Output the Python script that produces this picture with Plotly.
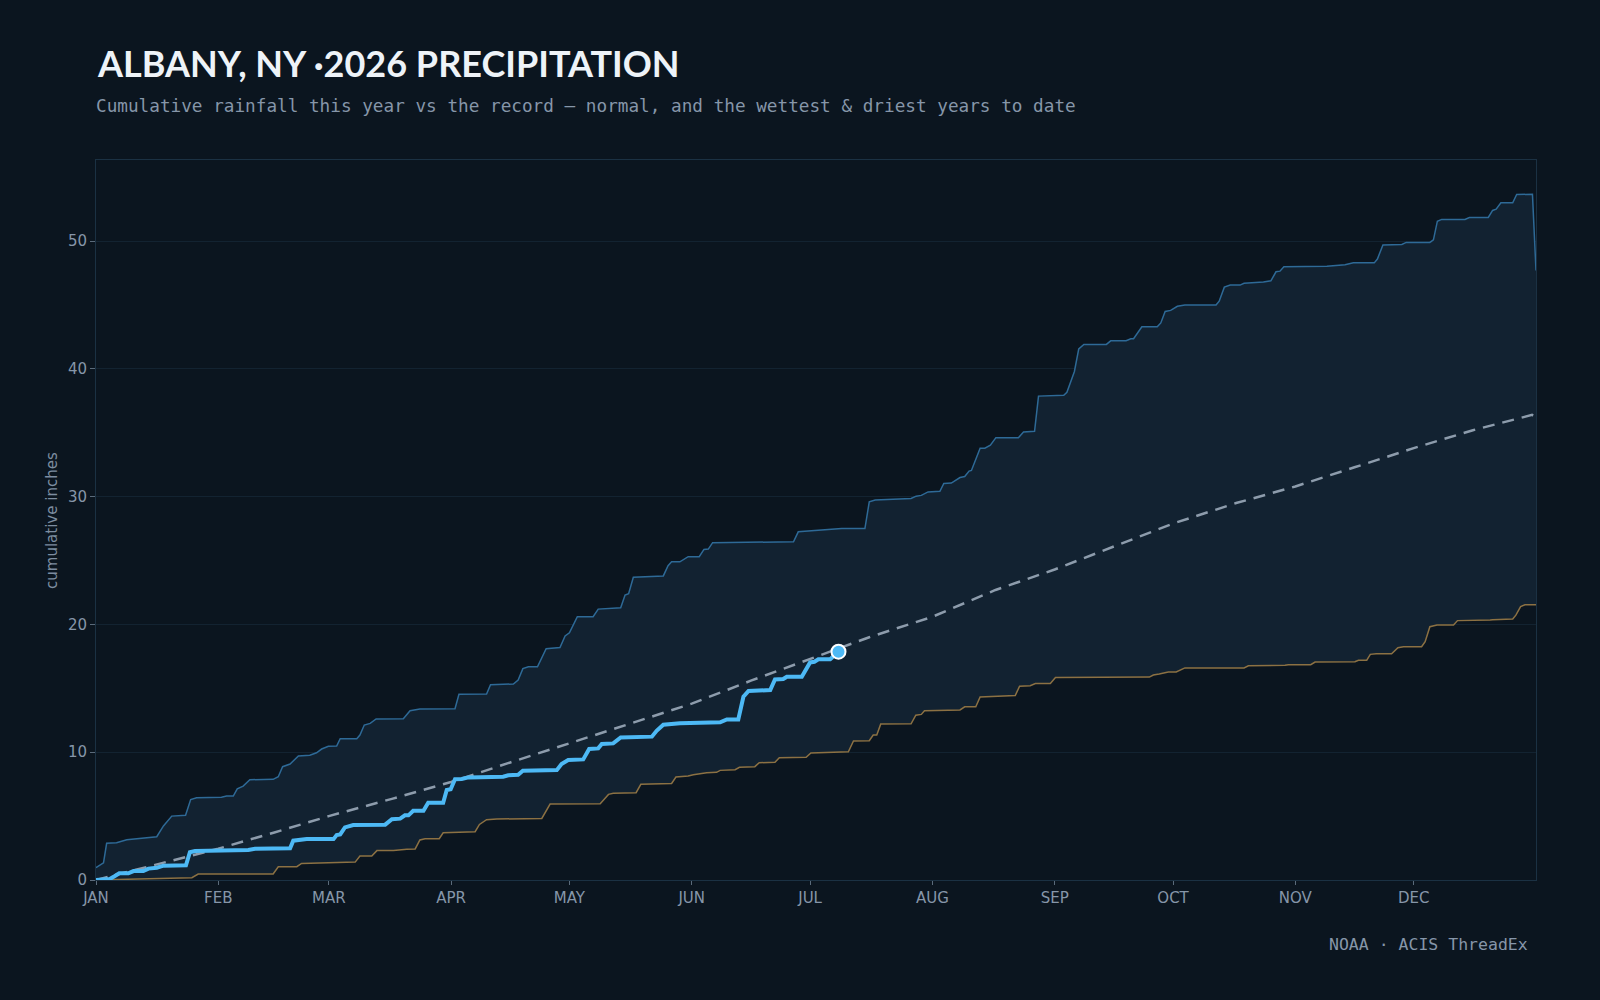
import plotly.graph_objects as go

# ---------------- data ----------------
month_days = [0, 31, 59, 90, 120, 151, 181, 212, 243, 273, 304, 334]
month_labels = ["JAN", "FEB", "MAR", "APR", "MAY", "JUN", "JUL", "AUG", "SEP", "OCT", "NOV", "DEC"]

wet_days = [0, 1.9, 2.7, 5.2, 7.8, 12, 15.4, 17.1, 19.2, 22.7, 24, 25.5, 31.8, 33.1, 34.8, 35.8, 37.3, 39,
            44.9, 46.2, 47.3, 49.2, 51.3, 54.2, 55.9, 57.2, 58.9, 61, 61.9, 66.1, 66.9, 68, 69.5, 71, 77.9,
            79.6, 82.1, 91, 92, 99, 100, 105.8, 107, 108.2, 109.6, 111.9, 114.1, 117.6, 118.9, 120, 122, 126,
            127.3, 133, 134.1, 135, 136.2, 143.8, 145, 145.9, 148, 150.1, 152.9, 154.1, 155.2, 156.3, 176.8,
            178, 181.8, 187.7, 189, 194.9, 196, 197.5, 206.6, 207.9, 209.2, 210.9, 213.9, 214.9, 216.8, 219,
            220.2, 221.3, 221.9, 224.1, 225.3, 226.7, 228.1, 233.8, 235.1, 237.9, 238.9, 245.3, 246.1, 248,
            249.1, 250.4, 256.1, 257.2, 261.1, 262.3, 263, 265.1, 269, 269.9, 271, 272.4, 274.1, 276, 283.9,
            284.7, 286, 287.5, 290, 291, 295.9, 297.8, 299.1, 300.1, 301.1, 312, 316.6, 318.7, 324, 324.8,
            326.2, 331, 332.1, 338.1, 339, 340, 341.1, 347, 348.1, 352.9, 354, 354.9, 356.1, 359.1, 360.1,
            364.1, 365]
wet_vals = [0.96, 1.35, 2.87, 2.92, 3.15, 3.26, 3.39, 4.23, 5.0, 5.06, 6.3, 6.44, 6.47, 6.57, 6.57, 7.14, 7.35,
            7.85, 7.88, 8.08, 8.87, 9.08, 9.70, 9.76, 9.96, 10.25, 10.46, 10.49, 11.06, 11.06, 11.35, 12.13,
            12.26, 12.6, 12.62, 13.25, 13.38, 13.4, 14.53, 14.55, 15.28, 15.34, 15.65, 16.54, 16.69, 16.69,
            18.1, 18.2, 19.1, 19.35, 20.6, 20.6, 21.2, 21.3, 22.3, 22.4, 23.7, 23.8, 24.6, 24.9, 24.9, 25.3,
            25.3, 25.87, 25.9, 26.4, 26.47, 27.25, 27.32, 27.43, 27.5, 27.5, 29.6, 29.74, 29.86, 30.04, 30.1,
            30.37, 30.42, 31.04, 31.07, 31.5, 31.58, 32.0, 32.05, 33.8, 33.8, 34.03, 34.62, 34.62, 35.06,
            35.12, 37.87, 37.93, 38.17, 39.8, 41.57, 41.92, 41.92, 42.2, 42.2, 42.36, 42.36, 43.3, 43.3, 43.6,
            44.5, 44.58, 44.9, 45.0, 45.0, 45.3, 46.4, 46.56, 46.56, 46.7, 46.8, 46.9, 47.6, 47.65, 48.0,
            48.04, 48.15, 48.3, 48.3, 48.6, 49.7, 49.74, 49.9, 49.9, 50.1, 51.56, 51.7, 51.7, 51.85, 51.85,
            52.4, 52.5, 53.0, 53.0, 53.65, 53.67, 47.7]

dry_days = [0, 9.5, 15.4, 24.3, 25.9, 44.9, 46.2, 50.9, 52.1, 63.5, 65.7, 66.9, 69.9, 71.2, 75.4, 78.8, 80.9,
            82.1, 83.4, 87, 88, 96.1, 97.2, 99, 101.6, 113, 115.1, 127.8, 129.9, 131.1, 136.9, 138.1, 145.9,
            147, 150.1, 151.4, 154.8, 157.3, 158.2, 162, 163.1, 167, 168.1, 172.1, 173.2, 180, 181.2, 190.7,
            192, 196, 197, 197.9, 198.9, 206.6, 207.8, 209.2, 210, 219, 220.2, 223, 224.1, 233, 234.1, 236.8,
            238.1, 241.9, 243.2, 267, 268, 269.5, 270.4, 271.8, 273.8, 276, 291, 292.1, 301.4, 302.2, 307.9,
            309, 319.1, 320, 322.1, 323, 324.5, 328.4, 330, 331.4, 336, 336.9, 338.1, 339.9, 344.1, 345.1,
            353.4, 354, 359.1, 359.9, 361.1, 362.2, 365]
dry_vals = [0, 0.05, 0.13, 0.18, 0.47, 0.47, 1.04, 1.04, 1.3, 1.35, 1.4, 1.88, 1.88, 2.3, 2.3, 2.4, 2.43, 3.13,
            3.23, 3.23, 3.7, 3.78, 4.35, 4.72, 4.77, 4.82, 5.94, 5.97, 6.7, 6.78, 6.83, 7.49, 7.56, 8.06, 8.14,
            8.24, 8.4, 8.43, 8.58, 8.63, 8.82, 8.87, 9.18, 9.21, 9.57, 9.6, 9.94, 10.04, 10.88, 10.9, 11.35,
            11.35, 12.2, 12.22, 12.9, 12.96, 13.25, 13.31, 13.55, 13.55, 14.32, 14.43, 15.17, 15.2, 15.38,
            15.38, 15.85, 15.88, 16.04, 16.12, 16.2, 16.28, 16.28, 16.6, 16.6, 16.77, 16.8, 16.85, 16.85,
            17.06, 17.08, 17.2, 17.2, 17.66, 17.7, 17.7, 18.18, 18.26, 18.26, 18.65, 19.82, 19.95, 19.95,
            20.3, 20.34, 20.37, 20.42, 20.73, 21.4, 21.54, 21.54]

normal_days = [0, 15, 31, 45, 59, 75, 90, 105, 120, 135, 151, 166, 181, 196, 212, 228, 243, 258, 273, 289,
               304, 319, 334, 349, 364, 365]
normal_vals = [0, 1.2, 2.45, 3.7, 5.0, 6.35, 7.67, 9.2, 10.7, 12.15, 13.8, 15.6, 17.3, 19.0, 20.6, 22.7, 24.3,
               26.1, 27.9, 29.5, 30.8, 32.3, 33.8, 35.2, 36.4, 36.2]

cur_days = [0, 3.5, 4.8, 5.9, 8.2, 9.5, 12, 13.3, 15.4, 17.1, 22.8, 23.8, 25.1, 34.8, 38.6, 40.3, 49.2, 50,
            51.7, 53.4, 60.2, 61, 61.9, 63.1, 65.2, 73.3, 75, 77.1, 78.3, 79.2, 80.4, 83, 84.2, 88, 88.9, 89.9,
            91, 92.7, 94.4, 103.2, 104.5, 107, 108.2, 116.8, 118, 119.7, 123.5, 125, 127.3, 128.2, 131.1, 133,
            140.9, 142.1, 143.8, 148, 158.2, 159.9, 162.8, 164.1, 165.4, 167.5, 170.9, 172.1, 174.2, 175.1,
            178.9, 181, 182.1, 183.1, 186.1, 188.2]
cur_vals = [0, 0.08, 0.31, 0.52, 0.52, 0.7, 0.7, 0.89, 0.96, 1.12, 1.15, 2.17, 2.27, 2.3, 2.35, 2.45, 2.48,
            3.08, 3.13, 3.2, 3.2, 3.52, 3.57, 4.12, 4.3, 4.33, 4.75, 4.8, 5.06, 5.06, 5.42, 5.42, 6.05, 6.05,
            7.04, 7.1, 7.88, 7.9, 8.03, 8.08, 8.2, 8.24, 8.55, 8.6, 9.08, 9.39, 9.44, 10.25, 10.3, 10.64,
            10.69, 11.16, 11.22, 11.68, 12.15, 12.26, 12.34, 12.57, 12.57, 14.34, 14.79, 14.81, 14.87, 15.7,
            15.73, 15.91, 15.91, 17.03, 17.08, 17.27, 17.27, 17.87]

title_text = "ALBANY, NY ·2026 PRECIPITATION"
subtitle_text = "Cumulative rainfall this year vs the record — normal, and the wettest & driest years to date"
source_text = "NOAA · ACIS ThreadEx"
y_title = "cumulative inches"

# ---------------- styles ----------------
BG = "#0b151f"
BAND = "#122231"
GRID = "#132331"
FRAME = "#1b3143"
MUTED = "#8696a9"

fig = go.Figure()
fig.add_trace(go.Scatter(x=dry_days, y=dry_vals, mode="lines",
                         line=dict(color="#8c7143", width=1.5), hoverinfo="skip", showlegend=False))
fig.add_trace(go.Scatter(x=wet_days, y=wet_vals, mode="lines", fill="tonexty", fillcolor=BAND,
                         line=dict(color="#2e6a97", width=1.5), hoverinfo="skip", showlegend=False))
fig.add_trace(go.Scatter(x=normal_days, y=normal_vals, mode="lines",
                         line=dict(color="#8d9cac", width=2.5, dash="12px,8px"), showlegend=False))
fig.add_trace(go.Scatter(x=cur_days, y=cur_vals, mode="lines",
                         line=dict(color="#4db9f5", width=4), showlegend=False))
fig.add_trace(go.Scatter(x=[cur_days[-1]], y=[cur_vals[-1]], mode="markers",
                         marker=dict(color="#4db9f5", size=14, line=dict(color="#ffffff", width=2)),
                         showlegend=False))

fig.update_layout(
    width=1600, height=1000,
    paper_bgcolor=BG, plot_bgcolor=BG,
    margin=dict(l=96, r=64, t=160, b=120),
    font=dict(family="DejaVu Sans", size=15, color=MUTED),
    xaxis=dict(range=[0, 365], tickvals=month_days, ticktext=month_labels,
               showgrid=False, zeroline=False, showline=True, mirror=True, linecolor=FRAME, linewidth=1,
               ticks="outside", ticklen=4, tickcolor="#5b6b7b", tickfont=dict(size=15, color=MUTED)),
    yaxis=dict(range=[0, 56.35], tickvals=[0, 10, 20, 30, 40, 50],
               showgrid=True, gridcolor=GRID, gridwidth=1, zeroline=False,
               showline=True, mirror=True, linecolor=FRAME, linewidth=1,
               ticks="outside", ticklen=5, tickcolor="#5b6b7b", tickfont=dict(size=15, color=MUTED)),
    annotations=[
        dict(text="<b>" + title_text + "</b>", xref="paper", yref="paper", x=-0.001, y=1.1347,
             xanchor="left", yanchor="middle", showarrow=False,
             font=dict(family="Lato", size=36, color="#eef3f8")),
        dict(text=subtitle_text, xref="paper", yref="paper", x=-0.0015, y=1.075,
             xanchor="left", yanchor="middle", showarrow=False,
             font=dict(family="DejaVu Sans Mono", size=17.7, color=MUTED)),
        dict(text=source_text, xref="paper", yref="paper", x=0.996, y=-0.0889,
             xanchor="right", yanchor="middle", showarrow=False,
             font=dict(family="DejaVu Sans Mono", size=16.5, color=MUTED)),
        dict(text=y_title, xref="paper", yref="paper", x=-0.0306, y=0.5,
             xanchor="center", yanchor="middle", textangle=-90, showarrow=False,
             font=dict(family="DejaVu Sans", size=15, color="#7d8da0")),
    ],
)

fig.write_html("out.html")
